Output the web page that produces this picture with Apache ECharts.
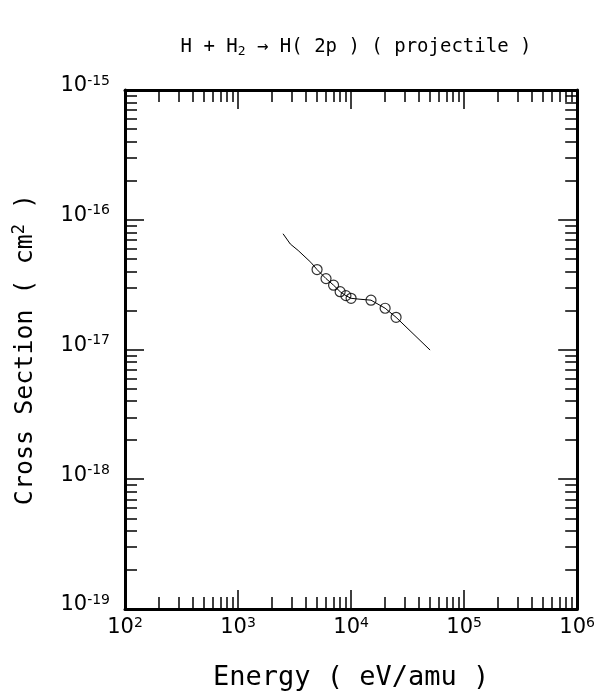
<!DOCTYPE html>
<html>
<head>
<meta charset="utf-8">
<script src="https://cdn.jsdelivr.net/npm/echarts@6/dist/echarts.min.js"></script>
<style>html,body{margin:0;padding:0;background:#fff;}#c{width:598px;height:696px;}</style>
</head>
<body>
<div id="c"></div>
<script>
// ---- data ----
const measuredEnergy = [5000, 6000, 7000, 8000, 9000, 10000, 15000, 20000, 25000];
const measuredSigma = [4.13e-17, 3.52e-17, 3.13e-17, 2.79e-17, 2.60e-17, 2.48e-17, 2.40e-17, 2.08e-17, 1.77e-17];
const fitEnergy = [2500, 2900, 3400, 4400, 5000, 6000, 7000, 8000, 9000, 10000, 12000, 15000, 20000, 25000, 50000];
const fitSigma = [7.8e-17, 6.5e-17, 5.8e-17, 4.7e-17, 4.13e-17, 3.52e-17, 3.13e-17, 2.79e-17, 2.60e-17, 2.48e-17, 2.44e-17, 2.40e-17, 2.08e-17, 1.77e-17, 9.9e-18];
const xMajorTicks = [1e2, 1e3, 1e4, 1e5, 1e6];
const yMajorTicks = [1e-19, 1e-18, 1e-17, 1e-16, 1e-15];
const minorMultipliers = [2, 3, 4, 5, 6, 7, 8, 9];

function minorOf(majors) {
  const out = [];
  for (let i = 0; i < majors.length - 1; i++) {
    for (const m of minorMultipliers) out.push(m * majors[i]);
  }
  return out;
}
const xMinorTicks = minorOf(xMajorTicks);
const yMinorTicks = minorOf(yMajorTicks);

const FONT = 'DejaVu Sans';
const MONO = 'DejaVu Sans Mono';
function powLabel(v) {
  const e = Math.round(Math.log10(v));
  return '{b|10}{s|' + (e < 0 ? '-' + (-e) : e) + '}';
}
const labelRich = {
  b: { fontFamily: FONT, fontSize: 21, color: '#000', lineHeight: 24 },
  s: { fontFamily: FONT, fontSize: 14, color: '#000', verticalAlign: 'top' }
};

function axisPair(kind, pos, min, max, majors, minors, withLabels, extra) {
  const lbl = { show: true, customValues: majors, formatter: powLabel, rich: labelRich };
  if (kind === 'x') { lbl.margin = 7; } else { lbl.margin = 15; lbl.padding = [0, 0, 8, 0]; }
  const main = Object.assign({
    type: 'log', logBase: 10, position: pos, min: min, max: max,
    axisLine: { show: true, onZero: false, lineStyle: { color: '#000', width: 3 } },
    axisTick: { show: true, inside: true, length: 19, customValues: majors, lineStyle: { color: '#000', width: 1.5 } },
    axisLabel: withLabels ? lbl : { show: false },
    splitLine: { show: false }, minorTick: { show: false }
  }, extra || {});
  const minor = {
    type: 'log', logBase: 10, position: pos, min: min, max: max,
    axisLine: { show: false },
    axisTick: { show: true, inside: true, length: 12, customValues: minors, lineStyle: { color: '#000', width: 1.5 } },
    axisLabel: { show: false }, splitLine: { show: false }
  };
  return [main, minor];
}

const xAxes = [].concat(
  axisPair('x', 'bottom', 1e2, 1e6, xMajorTicks, xMinorTicks, true, {
    name: 'Energy ( eV/amu )', nameLocation: 'middle', nameGap: 55,
    nameTextStyle: { fontFamily: MONO, fontSize: 27, color: '#000' }
  }),
  axisPair('x', 'top', 1e2, 1e6, xMajorTicks, xMinorTicks, false)
);
const yAxes = [].concat(
  axisPair('y', 'left', 1e-19, 1e-15, yMajorTicks, yMinorTicks, true, {
    name: '{a|Cross Section ( cm}{s|2}{a| )}', nameLocation: 'middle', nameGap: 86,
    nameTextStyle: { rich: {
      a: { fontFamily: MONO, fontSize: 25, color: '#000', lineHeight: 28 },
      s: { fontFamily: MONO, fontSize: 17, color: '#000', verticalAlign: 'top' }
    } }
  }),
  axisPair('y', 'right', 1e-19, 1e-15, yMajorTicks, yMinorTicks, false)
);

const chart = echarts.init(document.getElementById('c'), null, { renderer: 'canvas' });
chart.setOption({
  backgroundColor: '#fff',
  animation: false,
  title: {
    text: 'H + H{sub|2} → H( 2p ) ( projectile )',
    left: 351, top: 31, textAlign: 'center',
    textStyle: {
      fontFamily: MONO, fontSize: 19, fontWeight: 'normal', color: '#000',
      rich: {
        sub: { fontFamily: MONO, fontSize: 13, color: '#000', verticalAlign: 'bottom', lineHeight: 22 }
      }
    }
  },
  grid: { left: 125, top: 90, right: 17, bottom: 83, containLabel: false },
  xAxis: xAxes,
  yAxis: yAxes,
  series: [
    {
      type: 'line', xAxisIndex: 0, yAxisIndex: 0,
      data: fitEnergy.map((e, i) => [e, fitSigma[i]]),
      showSymbol: false, symbol: 'none',
      lineStyle: { color: '#000', width: 1 }
    },
    {
      type: 'scatter', xAxisIndex: 0, yAxisIndex: 0,
      data: measuredEnergy.map((e, i) => [e, measuredSigma[i]]),
      symbol: 'circle', symbolSize: 10,
      itemStyle: { color: 'rgba(0,0,0,0)', borderColor: '#000', borderWidth: 1.2 }
    }
  ]
});
</script>
</body>
</html>
